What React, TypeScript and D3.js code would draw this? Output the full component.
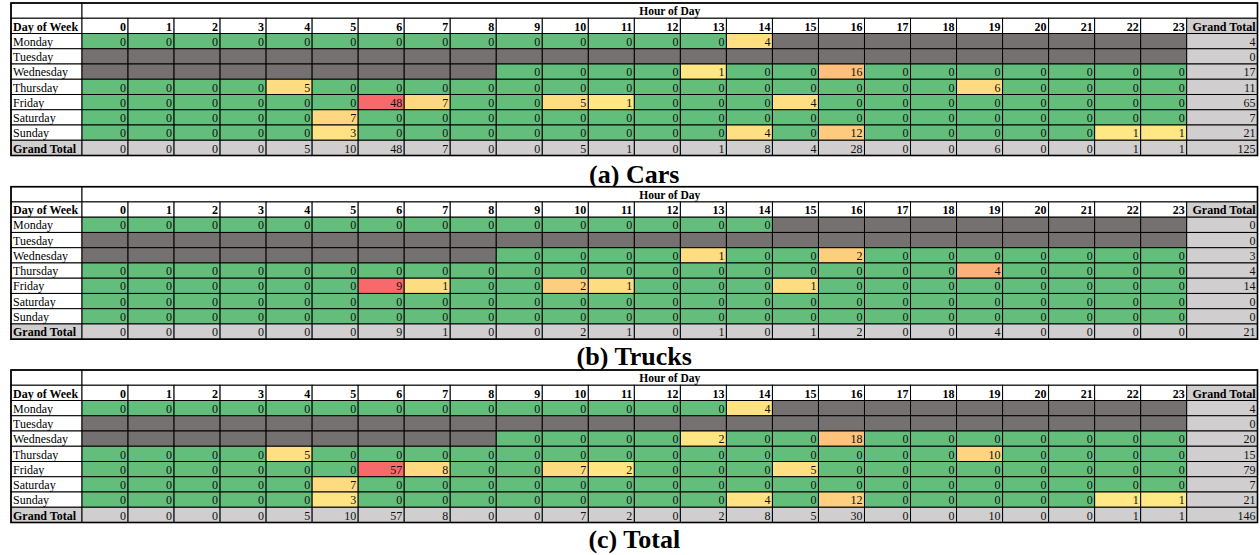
import React from "react";
import * as d3 from "d3";

const N = null;

const hourLabels = ["0","1","2","3","4","5","6","7","8","9","10","11","12","13","14","15","16","17","18","19","20","21","22","23"];
const days = ["Monday","Tuesday","Wednesday","Thursday","Friday","Saturday","Sunday"];

const carsValues: (number | null)[][] = [
  [0,0,0,0,0,0,0,0,0,0,0,0,0,0,4,N,N,N,N,N,N,N,N,N],
  [N,N,N,N,N,N,N,N,N,N,N,N,N,N,N,N,N,N,N,N,N,N,N,N],
  [N,N,N,N,N,N,N,N,N,0,0,0,0,1,0,0,16,0,0,0,0,0,0,0],
  [0,0,0,0,5,0,0,0,0,0,0,0,0,0,0,0,0,0,0,6,0,0,0,0],
  [0,0,0,0,0,0,48,7,0,0,5,1,0,0,0,4,0,0,0,0,0,0,0,0],
  [0,0,0,0,0,7,0,0,0,0,0,0,0,0,0,0,0,0,0,0,0,0,0,0],
  [0,0,0,0,0,3,0,0,0,0,0,0,0,0,4,0,12,0,0,0,0,0,1,1],
];

const trucksValues: (number | null)[][] = [
  [0,0,0,0,0,0,0,0,0,0,0,0,0,0,0,N,N,N,N,N,N,N,N,N],
  [N,N,N,N,N,N,N,N,N,N,N,N,N,N,N,N,N,N,N,N,N,N,N,N],
  [N,N,N,N,N,N,N,N,N,0,0,0,0,1,0,0,2,0,0,0,0,0,0,0],
  [0,0,0,0,0,0,0,0,0,0,0,0,0,0,0,0,0,0,0,4,0,0,0,0],
  [0,0,0,0,0,0,9,1,0,0,2,1,0,0,0,1,0,0,0,0,0,0,0,0],
  [0,0,0,0,0,0,0,0,0,0,0,0,0,0,0,0,0,0,0,0,0,0,0,0],
  [0,0,0,0,0,0,0,0,0,0,0,0,0,0,0,0,0,0,0,0,0,0,0,0],
];

const totalValues: (number | null)[][] = [
  [0,0,0,0,0,0,0,0,0,0,0,0,0,0,4,N,N,N,N,N,N,N,N,N],
  [N,N,N,N,N,N,N,N,N,N,N,N,N,N,N,N,N,N,N,N,N,N,N,N],
  [N,N,N,N,N,N,N,N,N,0,0,0,0,2,0,0,18,0,0,0,0,0,0,0],
  [0,0,0,0,5,0,0,0,0,0,0,0,0,0,0,0,0,0,0,10,0,0,0,0],
  [0,0,0,0,0,0,57,8,0,0,7,2,0,0,0,5,0,0,0,0,0,0,0,0],
  [0,0,0,0,0,7,0,0,0,0,0,0,0,0,0,0,0,0,0,0,0,0,0,0],
  [0,0,0,0,0,3,0,0,0,0,0,0,0,0,4,0,12,0,0,0,0,0,1,1],
];

const captions = ["(a) Cars", "(b) Trucks", "(c) Total"];
const panels = [carsValues, trucksValues, totalValues];

const W = 1260;
const H = 555;
const FONT = "'Liberation Serif', 'Times New Roman', serif";

const tableLeft = 11;
const firstColRight = 82;
const hoursRight = 1186.7;
const tableRight = 1257.5;
const tableHeight = 152.5;
const panelTops = [3, 186.7, 370];
const captionBaselines = [183, 365, 547.5];

const GREEN = "#63BE7B";
const YELLOW = "#FFEB84";
const RED = "#F8696B";
const MISSING = "#767171";
const TOTAL_BG = "#D0CECE";

const xHour = d3.scaleBand<string>().domain(hourLabels).range([firstColRight, hoursRight]).padding(0);

function Table({ values, top, caption, baseline }: { values: (number | null)[][]; top: number; caption: string; baseline: number }) {
  const rowKeys = ["title", "header", ...days, "Grand Total"];
  const y = d3.scaleBand<string>().domain(rowKeys).range([top, top + tableHeight]).padding(0);
  const rh = y.bandwidth();
  const maxV = d3.max(values.flat().map((v) => (v == null ? 0 : v))) || 1;
  const warm = d3.interpolateRgb(YELLOW, RED);
  const color = d3.scaleLinear<number>().domain([0, maxV]).range([0, 1]);
  const fill = (v: number | null) => (v == null ? MISSING : v === 0 ? GREEN : warm(color(v)));
  const rowTotals = values.map((r) => d3.sum(r, (v) => v ?? 0));
  const colTotals = hourLabels.map((_, i) => d3.sum(values, (r) => r[i] ?? 0));
  const grand = d3.sum(rowTotals);
  const bw = xHour.bandwidth();
  const pad = 2;
  const tb = (key: string) => (y(key) as number) + rh - 3;

  return (
    <g>
      {/* title row */}
      <rect x={tableLeft} y={y("title")} width={firstColRight - tableLeft} height={rh} fill="#fff" stroke="#000" strokeWidth={1} />
      <rect x={firstColRight} y={y("title")} width={tableRight - firstColRight} height={rh} fill="#fff" stroke="#000" strokeWidth={1} />
      <text x={(firstColRight + tableRight) / 2} y={tb("title")} textAnchor="middle" fontFamily={FONT} fontWeight="bold" fontSize={11.5}>Hour of Day</text>
      {/* header row */}
      <rect x={tableLeft} y={y("header")} width={firstColRight - tableLeft} height={rh} fill="#fff" stroke="#000" strokeWidth={1} />
      <text x={tableLeft + pad} y={tb("header")} fontFamily={FONT} fontWeight="bold" fontSize={12}>Day of Week</text>
      {hourLabels.map((h) => (
        <g key={h}>
          <rect x={xHour(h)} y={y("header")} width={bw} height={rh} fill="#fff" stroke="#000" strokeWidth={1} />
          <text x={(xHour(h) as number) + bw - pad} y={tb("header")} textAnchor="end" fontFamily={FONT} fontWeight="bold" fontSize={12}>{h}</text>
        </g>
      ))}
      <rect x={hoursRight} y={y("header")} width={tableRight - hoursRight} height={rh} fill={TOTAL_BG} stroke="#000" strokeWidth={1} />
      <text x={tableRight - pad} y={tb("header")} textAnchor="end" fontFamily={FONT} fontWeight="bold" fontSize={12}>Grand Total</text>
      {/* data rows */}
      {days.map((d, r) => (
        <g key={d}>
          <rect x={tableLeft} y={y(d)} width={firstColRight - tableLeft} height={rh} fill="#fff" stroke="#000" strokeWidth={1} />
          <text x={tableLeft + pad} y={tb(d)} fontFamily={FONT} fontSize={12}>{d}</text>
          {hourLabels.map((h, c) => {
            const v = values[r][c];
            return (
              <g key={h}>
                <rect x={xHour(h)} y={y(d)} width={bw} height={rh} fill={fill(v)} stroke="#000" strokeWidth={1} />
                {v != null && (
                  <text x={(xHour(h) as number) + bw - pad} y={tb(d)} textAnchor="end" fontFamily={FONT} fontSize={12} fill="#111">{v}</text>
                )}
              </g>
            );
          })}
          <rect x={hoursRight} y={y(d)} width={tableRight - hoursRight} height={rh} fill={TOTAL_BG} stroke="#000" strokeWidth={1} />
          <text x={tableRight - pad} y={tb(d)} textAnchor="end" fontFamily={FONT} fontSize={12} fill="#111">{rowTotals[r]}</text>
        </g>
      ))}
      {/* grand total row */}
      <rect x={tableLeft} y={y("Grand Total")} width={firstColRight - tableLeft} height={rh} fill={TOTAL_BG} stroke="#000" strokeWidth={1} />
      <text x={tableLeft + pad} y={tb("Grand Total")} fontFamily={FONT} fontWeight="bold" fontSize={12}>Grand Total</text>
      {hourLabels.map((h, c) => (
        <g key={h}>
          <rect x={xHour(h)} y={y("Grand Total")} width={bw} height={rh} fill={TOTAL_BG} stroke="#000" strokeWidth={1} />
          <text x={(xHour(h) as number) + bw - pad} y={tb("Grand Total")} textAnchor="end" fontFamily={FONT} fontSize={12} fill="#111">{colTotals[c]}</text>
        </g>
      ))}
      <rect x={hoursRight} y={y("Grand Total")} width={tableRight - hoursRight} height={rh} fill={TOTAL_BG} stroke="#000" strokeWidth={1} />
      <text x={tableRight - pad} y={tb("Grand Total")} textAnchor="end" fontFamily={FONT} fontSize={12} fill="#111">{grand}</text>
      {/* outer border */}
      <rect x={tableLeft} y={top} width={tableRight - tableLeft} height={tableHeight} fill="none" stroke="#000" strokeWidth={1.6} />
      <text x={(tableLeft + tableRight) / 2} y={baseline} textAnchor="middle" fontFamily={FONT} fontWeight="bold" fontSize={26}>{caption}</text>
    </g>
  );
}

export default function App() {
  return (
    <svg width={W} height={H} style={{ position: "absolute", left: 0, top: 0, background: "#fff" }}>
      <rect x={0} y={0} width={W} height={H} fill="#fff" />
      {panels.map((vals, i) => (
        <Table key={i} values={vals} top={panelTops[i]} caption={captions[i]} baseline={captionBaselines[i]} />
      ))}
    </svg>
  );
}
